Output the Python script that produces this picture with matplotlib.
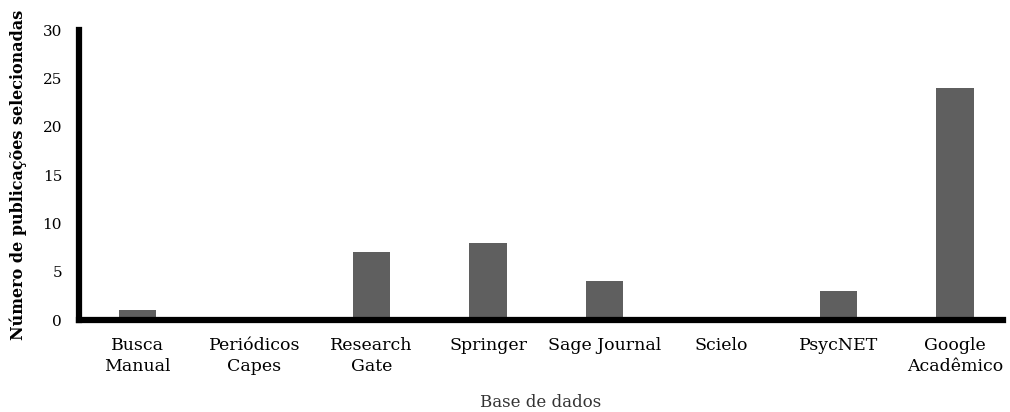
import matplotlib.pyplot as plt
import numpy as np

categorias = ['Busca\nManual', 'Periódicos\nCapes', 'Research\nGate', 'Springer',
              'Sage Journal', 'Scielo', 'PsycNET', 'Google\nAcadêmico']
publicacoes = [1, 0, 7, 8, 4, 0, 3, 24]
y_ticks = [0, 5, 10, 15, 20, 25, 30]

plt.rcParams['font.family'] = ['DejaVu Serif']

fig = plt.figure(figsize=(10.1, 4.12), dpi=100)
ax = fig.add_axes([0.078, 0.223, 0.915, 0.704])

x = np.arange(len(categorias))
ax.bar(x, publicacoes, width=0.32, color='#5f5f5f', zorder=2)

ax.set_xlim(-0.505, 7.41)
ax.set_ylim(0, 30)
ax.set_yticks(y_ticks)
ax.set_xticks(x)
ax.set_xticklabels(categorias, fontsize=12.5, linespacing=1.3)
ax.tick_params(axis='y', length=0, pad=12, labelsize=11)
ax.tick_params(axis='x', length=0, pad=12)

for s in ['top', 'right']:
    ax.spines[s].set_visible(False)
for s in ['left', 'bottom']:
    ax.spines[s].set_linewidth(4.5)
    ax.spines[s].set_color('black')

ax.set_ylabel('Número de publicações selecionadas', fontsize=11.5, fontweight='bold', labelpad=11)
ax.set_xlabel('Base de dados', fontsize=12, color='#333333', labelpad=14)

fig.savefig('out.png', dpi=100)
